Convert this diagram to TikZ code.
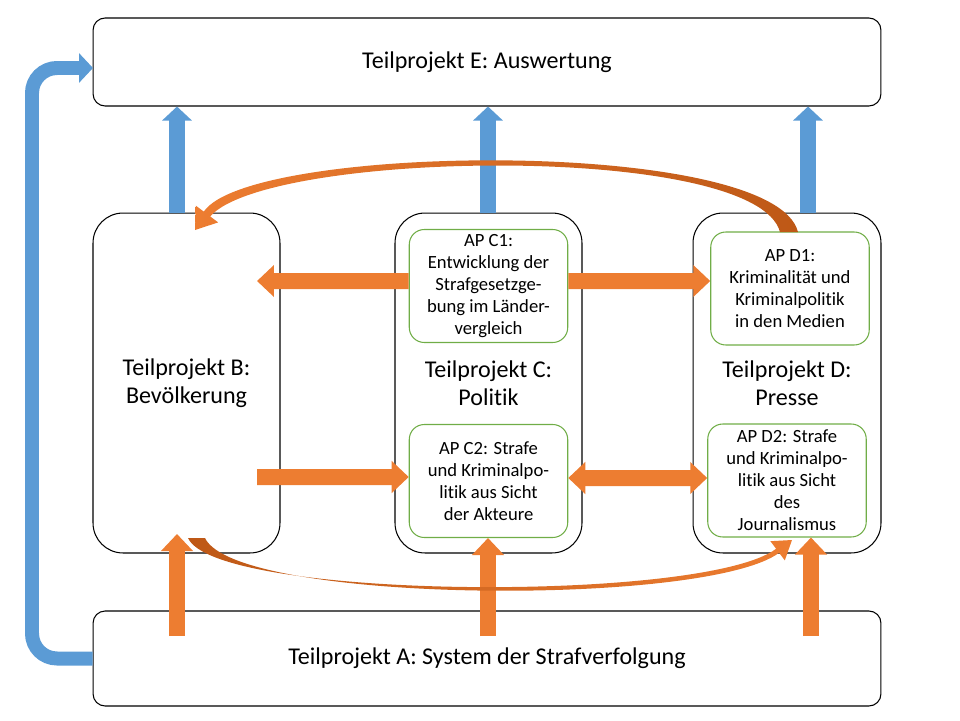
\documentclass[tikz,border=0pt]{standalone}
\usepackage{fontspec}
\setmainfont{Carlito}[Ligatures=NoCommon]
\usetikzlibrary{positioning, arrows.meta, calc}

\definecolor{arrowblue}{RGB}{91,155,213}
\definecolor{arroworange}{RGB}{237,125,49}
\definecolor{darkorange}{RGB}{190,88,22}
\definecolor{apgreen}{RGB}{112,173,71}

\begin{document}
\begin{tikzpicture}[x=0.02cm, y=-0.02cm,
                    part_box/.style={draw=black, line width=0.6pt, align=center, inner sep=0pt, font=\fontsize{13.7}{16}\selectfont},
                    ap_box/.style={draw=apgreen, line width=0.6pt, rounded corners=0.3cm, align=center, inner sep=0pt,
                                   minimum width=3.17cm, minimum height=2.26cm, font=\fontsize{10.6}{12.5}\selectfont},
                    blue_arrow/.style={draw=arrowblue, line width=0.32cm, -{Triangle[width=0.58cm, length=0.28cm]}},
                    orange_arrow/.style={draw=arroworange, line width=0.32cm, -{Triangle[width=0.62cm, length=0.34cm]}}
                ]
                    \useasboundingbox (0,0) rectangle (960,720);

                    % Teilprojekte
                    \node[part_box, rounded corners=0.24cm, minimum width=15.76cm, minimum height=1.76cm] (E) at (487,62) {Teilprojekt E: Auswertung};
                    \node[part_box, rounded corners=0.24cm, minimum width=15.76cm, minimum height=1.9cm] (A) at (487,658.5) {Teilprojekt A: System der Strafverfolgung};
                    \node[part_box, rounded corners=0.6cm, minimum width=3.74cm, minimum height=6.8cm] (B) at (186.5,383) {Teilprojekt B:\\Bevölkerung};
                    \node[part_box, rounded corners=0.6cm, minimum width=3.74cm, minimum height=6.8cm] (C) at (488.5,383) {Teilprojekt C:\\Politik};
                    \node[part_box, rounded corners=0.6cm, minimum width=3.76cm, minimum height=6.8cm] (D) at (787,383) {Teilprojekt D:\\Presse};

                    % Arbeitspakete
                    \node[ap_box] (C1) at (488.5,286) {AP C1:\\Entwicklung der\\Strafgesetzge-\\bung im Länder-\\vergleich};
                    \node[ap_box] (C2) at (488.5,481) {AP C2: Strafe\\und Kriminalpo-\\litik aus Sicht\\der Akteure};
                    \node[ap_box] (D1) at (790,288.5) {AP D1:\\Kriminalität und\\Kriminalpolitik\\in den Medien};
                    \node[ap_box] (D2) at (787,480.5) {AP D2: Strafe\\und Kriminalpo-\\litik aus Sicht\\des\\Journalismus};

                    \coordinate (xl) at (177,0);
                    \coordinate (xm) at (488,0);
                    \coordinate (xr) at (808,0);
                    \coordinate (a_l) at (177,636);
                    \coordinate (a_m) at (488,636);
                    \coordinate (a_r) at (811,636);
                    \coordinate (b_low) at (177,534);
                    \coordinate (b_top) at (257,281);
                    \coordinate (b_mid) at (257,477);
                    \coordinate (loop_bot) at (32,658.5);
                    \coordinate (loop_top) at (32,68);
                    \coordinate (e_in) at (93,68);

                    % nach oben zu E
                    \draw[blue_arrow] (B.north -| xl) -- (E.south -| xl);
                    \draw[blue_arrow] (C.north -| xm) -- (E.south -| xm);
                    \draw[blue_arrow] (D.north -| xr) -- (E.south -| xr);
                    \draw[blue_arrow, line width=0.28cm, rounded corners=0.5cm] (A.west) -- (loop_bot) -- (loop_top) -- (e_in);

                    % von A nach oben
                    \draw[orange_arrow] (a_l) -- (b_low);
                    \draw[orange_arrow] (a_m) -- (C2.south -| a_m);
                    \draw[orange_arrow] (a_r) -- (D2.south -| a_r);

                    % zwischen den Teilprojekten
                    \draw[orange_arrow] ([yshift=0.1cm]C1.west) -- (b_top);
                    \draw[orange_arrow] ([yshift=0.1cm]C1.east) -- ([yshift=0.15cm]D1.west);
                    \draw[orange_arrow] (b_mid) -- ([yshift=0.08cm]C2.west);
                    \draw[orange_arrow, {Triangle[width=0.62cm, length=0.34cm]}-{Triangle[width=0.62cm, length=0.34cm]}] ([yshift=0.06cm]C2.east) -- ([yshift=0.05cm]D2.west);

                    % gebogene Pfeile
                    \shade[left color=arroworange, right color=darkorange]
                        (780,232) .. controls (756,142) and (268,150) .. (210.2,216.4)
                        -- (218.2,222.4) -- (195,230) -- (195.8,205.6) -- (203.8,211.6)
                        .. controls (250,143) and (774,137) .. (798,232) -- cycle;
                    \shade[left color=darkorange, right color=arroworange]
                        (188,538) .. controls (216,600) and (704,603) .. (776.1,548.8)
                        -- (770.4,541.2) -- (792,540) -- (784.8,560.4) -- (779.1,552.8)
                        .. controls (706,607) and (236,604) .. (205,538) -- cycle;
                \end{tikzpicture}
\end{document}
